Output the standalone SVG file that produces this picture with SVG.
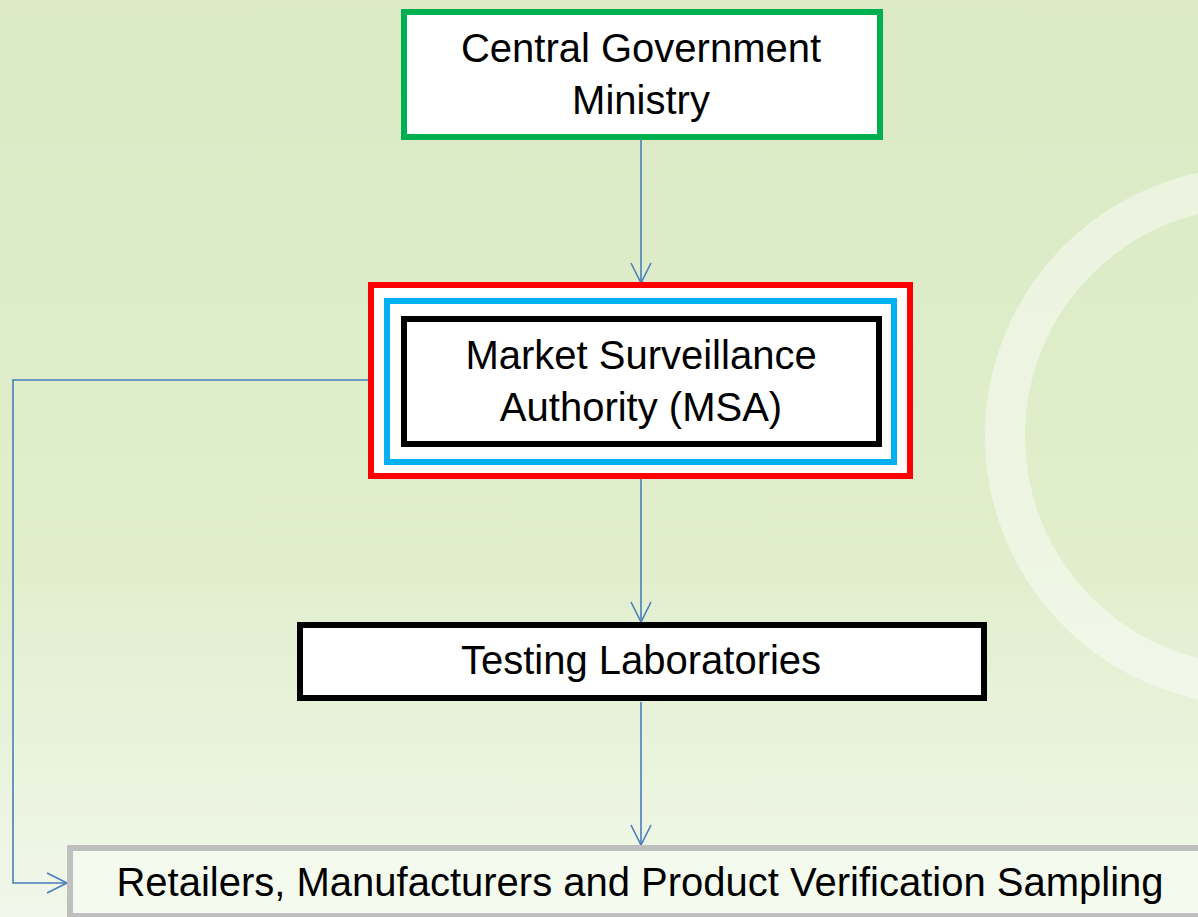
<svg xmlns="http://www.w3.org/2000/svg" width="1198" height="917" viewBox="0 0 1198 917">
  <defs>
    <linearGradient id="bg" x1="0" y1="0" x2="0" y2="1">
      <stop offset="0" stop-color="#dbeac5"/>
      <stop offset="0.6" stop-color="#e0eecc"/>
      <stop offset="1" stop-color="#f1f7ea"/>
    </linearGradient>
    <marker id="arr" viewBox="0 0 24 24" refX="22" refY="12" markerWidth="24" markerHeight="24" markerUnits="userSpaceOnUse" orient="auto">
      <path d="M2,2 L22,12 L2,22" fill="none" stroke="#4a7ebb" stroke-width="1.6"/>
    </marker>
    <style>
      .lbl { font-family: "Liberation Sans", Arial, sans-serif; font-size: 40px; fill: #000; text-anchor: middle; }
      .conn { fill: none; stroke: #4a7ebb; stroke-width: 1.6; marker-end: url(#arr); }
    </style>
  </defs>
  <rect x="0" y="0" width="1198" height="917" fill="url(#bg)"/>
  <circle cx="1254" cy="436" r="249" fill="none" stroke="#ffffff" stroke-opacity="0.45" stroke-width="40"/>

  <g id="connectors">
    <path class="conn" d="M641,140 L641,283"/>
    <path class="conn" d="M641,479 L641,622"/>
    <path class="conn" d="M641,702 L641,845"/>
    <path class="conn" d="M368,380 L13,380 L13,883 L67,883"/>
  </g>

  <g id="central-government">
    <rect x="404" y="12" width="476" height="125" fill="#ffffff" stroke="#00b050" stroke-width="6"/>
    <text class="lbl" x="641" y="62">Central Government</text>
    <text class="lbl" x="641" y="114">Ministry</text>
  </g>

  <g id="msa">
    <rect x="371" y="285" width="539" height="191" fill="#ffffff" stroke="#ff0000" stroke-width="6"/>
    <rect x="387" y="301" width="507" height="161" fill="#ffffff" stroke="#00b0f0" stroke-width="6"/>
    <rect x="404" y="319" width="475" height="125" fill="#ffffff" stroke="#000000" stroke-width="6"/>
    <text class="lbl" x="641" y="369">Market Surveillance</text>
    <text class="lbl" x="641" y="421">Authority (MSA)</text>
  </g>

  <g id="testing-laboratories">
    <rect x="300" y="625" width="684" height="73" fill="#ffffff" stroke="#000000" stroke-width="6"/>
    <text class="lbl" x="641" y="674">Testing Laboratories</text>
  </g>

  <g id="retailers">
    <rect x="70" y="848" width="1140" height="68" fill="#f5faef" stroke="#bfbfbf" stroke-width="6"/>
    <text class="lbl" x="640" y="896">Retailers, Manufacturers and Product Verification Sampling</text>
  </g>
</svg>
